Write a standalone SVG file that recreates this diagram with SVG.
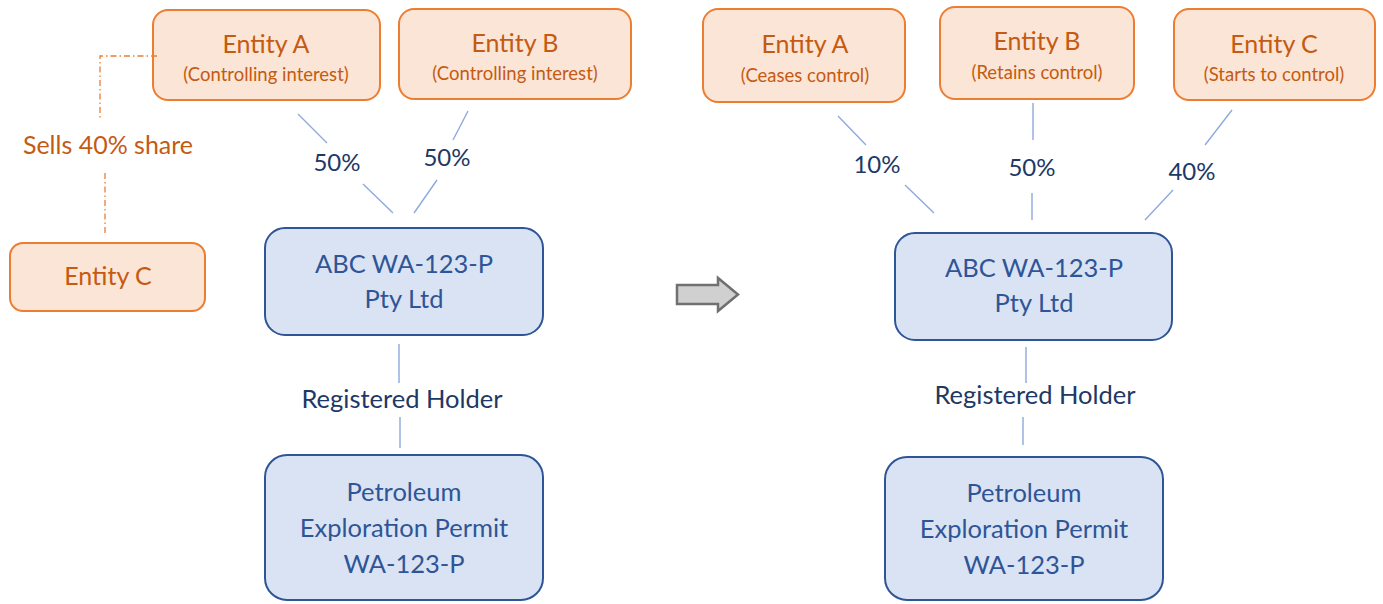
<svg xmlns="http://www.w3.org/2000/svg" width="1383" height="604" viewBox="0 0 1383 604">
<style>
text{font-family:Lato,"Open Sans","Liberation Sans",sans-serif;text-anchor:middle}
.or rect{fill:#fbe5d6;stroke:#ed7d31;stroke-width:2}
.bl rect{fill:#dae3f3;stroke:#2f5597;stroke-width:2}
.ot{fill:#c55a11;font-size:25px}
.os{fill:#c55a11;font-size:18.5px}
.bt{fill:#2f5597;font-size:25.5px}
.lab{fill:#203864;font-size:24px}
.rh{fill:#203864;font-size:25.5px}
.ln{stroke:#8faadc;stroke-width:1.4;fill:none}
.dd{stroke:#ed7d31;stroke-width:1.3;fill:none;stroke-dasharray:6 3 1.5 3}
</style>
<g id="left-entity-a" class="or"><rect x="153" y="10" width="227" height="90" rx="15"/><text class="ot" x="266" y="53">Entity A</text><text class="os" x="266" y="81">(Controlling interest)</text></g>
<g id="left-entity-b" class="or"><rect x="399" y="9" width="232" height="90" rx="15"/><text class="ot" x="515" y="52">Entity B</text><text class="os" x="515" y="80">(Controlling interest)</text></g>
<g id="left-entity-c" class="or"><rect x="10" y="243" width="195" height="68" rx="13"/><text class="ot" x="108" y="285">Entity C</text></g>
<g id="left-abc" class="bl"><rect x="265" y="228" width="278" height="107" rx="20"/><text class="bt" x="404" y="273">ABC WA-123-P</text><text class="bt" x="404" y="308">Pty Ltd</text></g>
<g id="left-permit" class="bl"><rect x="265" y="455" width="278" height="145" rx="22"/><text class="bt" x="404" y="501">Petroleum</text><text class="bt" x="404" y="537">Exploration Permit</text><text class="bt" x="404" y="573">WA-123-P</text></g>
<g id="right-entity-a" class="or"><rect x="703" y="9" width="202" height="93" rx="15"/><text class="ot" x="805" y="53">Entity A</text><text class="os" x="805" y="82">(Ceases control)</text></g>
<g id="right-entity-b" class="or"><rect x="940" y="7" width="194" height="92" rx="15"/><text class="ot" x="1037" y="50">Entity B</text><text class="os" x="1037" y="79">(Retains control)</text></g>
<g id="right-entity-c" class="or"><rect x="1174" y="9" width="201" height="91" rx="15"/><text class="ot" x="1274" y="53">Entity C</text><text class="os" x="1274" y="81">(Starts to control)</text></g>
<g id="right-abc" class="bl"><rect x="895" y="233" width="277" height="107" rx="20"/><text class="bt" x="1034" y="277">ABC WA-123-P</text><text class="bt" x="1034" y="312">Pty Ltd</text></g>
<g id="right-permit" class="bl"><rect x="885" y="457" width="278" height="143" rx="22"/><text class="bt" x="1024" y="502">Petroleum</text><text class="bt" x="1024" y="538">Exploration Permit</text><text class="bt" x="1024" y="574">WA-123-P</text></g>
<g id="transition-arrow"><path d="M677 285 H718 V278 L738 294.5 L718 311 V304 H677 Z" fill="#d0d0d0" stroke="#707070" stroke-width="2.5" stroke-linejoin="miter"/></g>
<g id="connectors">
<path class="ln" d="M298 114 L327 143 M363 184 L393 213"/>
<text class="lab" x="337" y="171">50%</text>
<path class="ln" d="M468 111 L453 140 M437 180 L414 213"/>
<text class="lab" x="447" y="166">50%</text>
<path class="dd" d="M157 56 H100 V118 M105 173 V235"/>
<text class="ot" x="108" y="154">Sells 40% share</text>
<path class="ln" d="M399 344 V383 M400 417 V448"/>
<text class="rh" x="402" y="408">Registered Holder</text>
<path class="ln" d="M838 116 L866 145 M905 185 L934 213"/>
<text class="lab" x="877" y="173">10%</text>
<path class="ln" d="M1033 103 V140 M1032 193 V220"/>
<text class="lab" x="1032" y="176">50%</text>
<path class="ln" d="M1232 110 L1205 145 M1173 190 L1145 220"/>
<text class="lab" x="1192" y="180">40%</text>
<path class="ln" d="M1026 347 V383 M1023 417 V445"/>
<text class="rh" x="1035" y="404">Registered Holder</text>
</g>
</svg>
